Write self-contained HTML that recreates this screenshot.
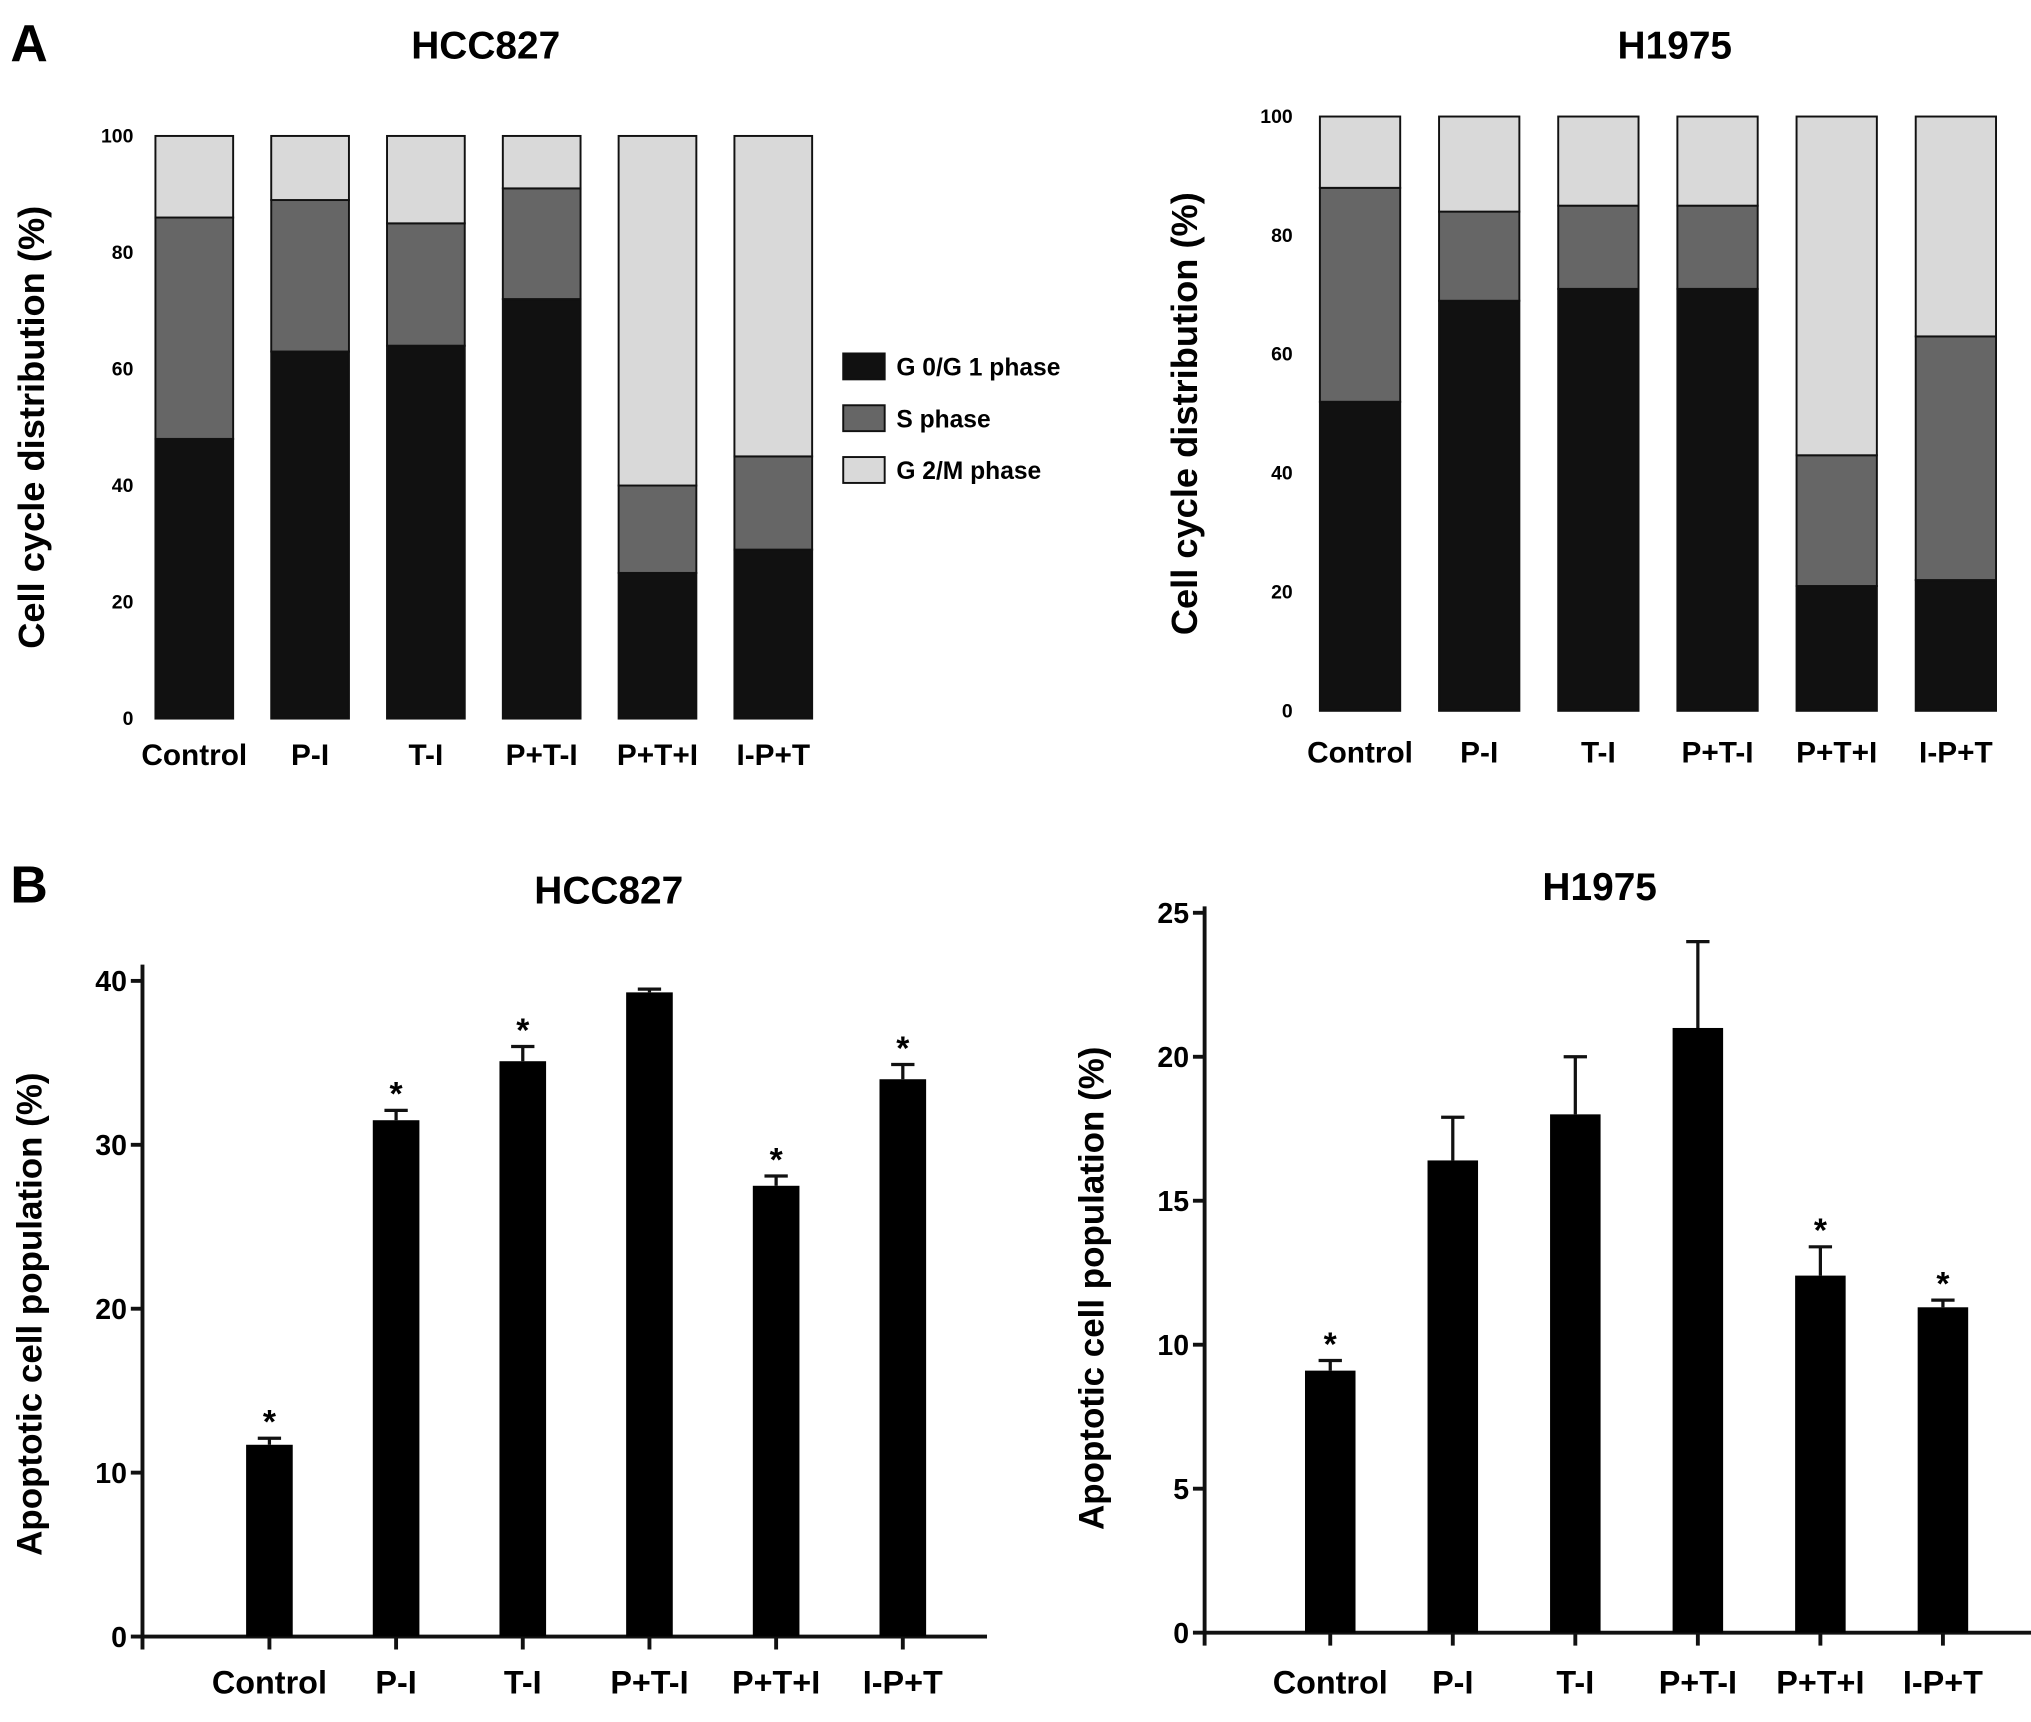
<!DOCTYPE html>
<html><head><meta charset="utf-8"><style>
html,body{margin:0;padding:0;background:#fff}
svg{display:block;font-family:"Liberation Sans",Arial,sans-serif;font-weight:bold}
</style></head><body>
<svg id="fig" width="2031" height="1722" viewBox="0 0 1568 1330" preserveAspectRatio="none">
<text x="8" y="47" font-size="40">A</text>
<text x="8" y="697" font-size="40">B</text>
<g id="g"></g>
</svg>
<script>
const cats = ["Control","P-I","T-I","P+T-I","P+T+I","I-P+T"];
const hccG1 = [48,63,64,72,25,29];
const hccS = [38,26,21,19,15,16];
const h19G1 = [52,69,71,71,21,22];
const h19S = [36,15,14,14,22,41];
const stackTicks = [0,20,40,60,80,100];
const hccApo = [11.7,31.5,35.1,39.3,27.5,34.0];
const hccErr = [0.4,0.6,0.9,0.2,0.6,0.9];
const hccStar = [1,1,1,0,1,1];
const h19Apo = [9.1,16.4,18.0,21.0,12.4,11.3];
const h19Err = [0.35,1.5,2.0,3.0,1.0,0.25];
const h19Star = [1,0,0,0,1,1];
const hccTicks = [0,10,20,30,40];
const h19Ticks = [0,5,10,15,20,25];

const NS="http://www.w3.org/2000/svg", G=document.getElementById('g');
function el(t,a,txt){const e=document.createElementNS(NS,t);for(const k in a)e.setAttribute(k,a[k]);if(txt!==undefined)e.textContent=txt;G.appendChild(e);return e;}
const colors=["#111","#666","#d9d9d9"];

function stacked(o){
  const y=v=>o.y0-(o.y0-o.y100)*v/100;
  el('text',{x:o.tx,y:o.ty,'font-size':30,'text-anchor':'middle',},o.title);
  const yt=el('text',{x:0,y:0,'font-size':28,'text-anchor':'middle',transform:`translate(${o.ylx},${(o.y0+o.y100)/2}) rotate(-90)`},'Cell cycle distribution (%)');
  
  stackTicks.forEach(t=>{const e=el('text',{x:o.tkx,y:y(t)+5,'font-size':15,'text-anchor':'end'},t);
    });
  cats.forEach((c,i)=>{
    const x=o.x0+i*o.step, g1=o.g1[i], s=o.s[i];
    const segs=[[0,g1],[g1,g1+s],[g1+s,100]];
    segs.forEach((sg,k)=>{const r=el('rect',{x:x,y:y(sg[1]),width:o.w,height:y(sg[0])-y(sg[1]),fill:colors[k],stroke:'#111','stroke-width':1.5});
      });
    const l=el('text',{x:x+o.w/2,y:o.ly,'font-size':23,'text-anchor':'middle'},c);
    
  });
}
stacked({id:'a-hcc827',title:'HCC827',tx:375,ty:45,y0:555,y100:105,x0:120,step:89.4,w:60,tkx:103,ly:591,ylx:34,g1:hccG1,s:hccS});
stacked({id:'a-h1975',title:'H1975',tx:1293,ty:45,y0:549,y100:90,x0:1019,step:92,w:62,tkx:998,ly:589,ylx:924,g1:h19G1,s:h19S});

["G 0/G 1 phase","S phase","G 2/M phase"].forEach((t,k)=>{
  const r=el('rect',{x:651,y:273+k*40,width:32,height:20,fill:colors[k],stroke:'#111','stroke-width':1.5});
  
  const e=el('text',{x:692,y:290+k*40,'font-size':19},t);
  
});

function barChart(o){
  const y=v=>o.y0-o.ppu*v;
  el('text',{x:o.tx,y:o.ty,'font-size':30,'text-anchor':'middle',},o.title);
  const yt=el('text',{x:0,y:0,'font-size':27,'text-anchor':'middle',transform:`translate(${o.ylx},${o.ylc}) rotate(-90)`},'Apoptotic cell population (%)');
  
  const ax=el('path',{d:`M${o.ax},${o.top}V${o.y0}H${o.xe}`,stroke:'#111','stroke-width':3,fill:'none'});
  
  el('line',{x1:o.ax,y1:o.y0,x2:o.ax,y2:o.y0+10,stroke:'#111','stroke-width':3});
  o.ticks.forEach(t=>{
    el('line',{x1:o.ax-9,y1:y(t),x2:o.ax,y2:y(t),stroke:'#111','stroke-width':3});
    const e=el('text',{x:o.ax-12,y:y(t)+8,'font-size':22,'text-anchor':'end'},t);
    
  });
  cats.forEach((c,i)=>{
    const cx=o.c0+i*o.step, v=o.v[i], e=o.e[i];
    el('line',{x1:cx,y1:y(v),x2:cx,y2:y(v+e),stroke:'#111','stroke-width':2.5});
    el('line',{x1:cx-9,y1:y(v+e),x2:cx+9,y2:y(v+e),stroke:'#111','stroke-width':2.5});
    const r=el('rect',{x:cx-o.w/2,y:y(v),width:o.w,height:y(0)-y(v),fill:'#000'});
    
    el('line',{x1:cx,y1:o.y0,x2:cx,y2:o.y0+10,stroke:'#111','stroke-width':3});
    if(o.star[i]){const s=el('text',{x:cx,y:y(v+e)-4,'font-size':26,'text-anchor':'middle'},'*');
      }
    const l=el('text',{x:cx,y:o.ly,'font-size':25,'text-anchor':'middle'},c);
    
  });
}
barChart({id:'b-hcc827',title:'HCC827',tx:470,ty:698,y0:1264,ppu:12.66,ax:110,top:745,xe:762,c0:208,step:97.8,w:36,ticks:hccTicks,v:hccApo,e:hccErr,star:hccStar,ly:1308,ylx:32,ylc:1015});
barChart({id:'b-h1975',title:'H1975',tx:1235,ty:695,y0:1261,ppu:22.24,ax:930,top:700,xe:1568,c0:1027,step:94.6,w:39,ticks:h19Ticks,v:h19Apo,e:h19Err,star:h19Star,ly:1308,ylx:852,ylc:995});
</script>
</body></html>
